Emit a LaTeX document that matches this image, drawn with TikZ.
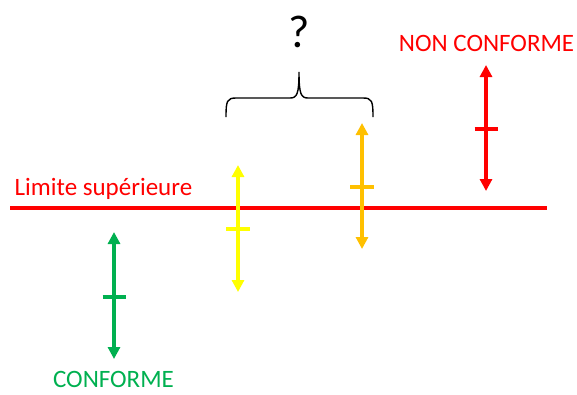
\documentclass[tikz,border=0pt]{standalone}
\usepackage{fontspec}
\setmainfont{Carlito}
\usetikzlibrary{arrows.meta}
\definecolor{cgreen}{HTML}{00B050}
\definecolor{cyellow}{HTML}{FFFF00}
\definecolor{corange}{HTML}{FFC000}
\definecolor{cred}{HTML}{FF0000}
\tikzset{
  interval/.style={line width=3.6pt, {Triangle[width=12pt,length=12pt]}-{Triangle[width=12pt,length=12pt]}},
  tick/.style={line width=3.2pt},
  lbl/.style={inner sep=0pt, font=\fontsize{25}{30}\selectfont}
}
\begin{document}
\begin{tikzpicture}[x=1pt,y=-1pt]
\useasboundingbox (0,0) rectangle (577,394);
% limit line
\coordinate (l1) at (10,208);
\coordinate (l2) at (547,208);
\draw[cred, line width=3.2pt] (l1) -- (l2);
\node[lbl, text=cred, anchor=base west] (lim) at (14.5,195) {Limite supérieure};
% labels
\node[lbl, text=cred, anchor=base] (nc) at (486.5,51.5) {NON CONFORME};
\node[lbl, text=cgreen, anchor=base] (c) at (113.5,387) {CONFORME};
\node[inner sep=0pt, anchor=base, font=\fontsize{46}{50}\selectfont] (q) at (299,47) {?};
% brace
\draw[black, line width=1.4pt] (226,117) .. controls (226,101) and (227,98) .. (236,98) -- (290,98) .. controls (297,98) and (299,94) .. (299,72) .. controls (299,94) and (301,98) .. (308,98) -- (363,98) .. controls (372,98) and (373,101) .. (373,117);
% green
\coordinate (g1) at (114,232);
\coordinate (g2) at (114,359);
\coordinate (gt1) at (102.5,297);
\coordinate (gt2) at (126,297);
\draw[cgreen, interval] (g1) -- (g2);
\draw[cgreen, tick] (gt1) -- (gt2);
% yellow
\coordinate (y1) at (238,165);
\coordinate (y2) at (238,292);
\coordinate (yt1) at (226,229);
\coordinate (yt2) at (250,229);
\draw[cyellow, interval] (y1) -- (y2);
\draw[cyellow, tick] (yt1) -- (yt2);
% orange
\coordinate (o1) at (362,123);
\coordinate (o2) at (362,249);
\coordinate (ot1) at (350,187);
\coordinate (ot2) at (374,187);
\draw[corange, interval] (o1) -- (o2);
\draw[corange, tick] (ot1) -- (ot2);
% red
\coordinate (r1) at (486,65);
\coordinate (r2) at (486,191);
\coordinate (rt1) at (474.5,129);
\coordinate (rt2) at (497.5,129);
\draw[cred, interval] (r1) -- (r2);
\draw[cred, tick] (rt1) -- (rt2);
\end{tikzpicture}
\end{document}
